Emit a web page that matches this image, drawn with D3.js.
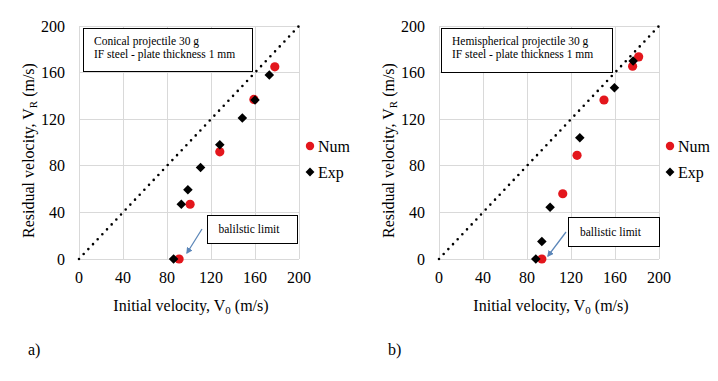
<!DOCTYPE html>
<html>
<head>
<meta charset="utf-8">
<script src="https://cdn.jsdelivr.net/npm/d3@7"></script>
<style>
  body { margin: 0; background: #fff; }
  svg { font-family: "Liberation Serif", "Times New Roman", serif; }
</style>
</head>
<body>
<div id="chart"></div>
<script>
// data
const ticks = [0, 40, 80, 120, 160, 200];

const conicalNum = [[91, 0], [101, 47], [128, 92], [159, 137], [178, 165]];
const conicalExp = [[86, 0], [93, 47], [99, 59.5], [110.5, 78.5], [128, 98], [148.5, 121], [160, 136.5], [173, 158]];

const hemiNum = [[93.5, 0], [112.5, 56], [125.5, 89], [150, 136.5], [176, 165.5], [181.5, 173.5]];
const hemiExp = [[88, 0], [93.5, 15], [101, 44.5], [128, 104], [159.5, 147], [176.5, 170]];

const panels = [
  {
    left: 79, tag: 'a)',
    note: ['Conical projectile 30 g', 'IF steel - plate thickness 1 mm'],
    limitText: 'balilstic limit',
    num: conicalNum, exp: conicalExp,
    box: [83, 28, 169, 43], limitBox: [207, 215, 90, 28],
    arrow: [[202, 229], [187, 253]]
  },
  {
    left: 439, tag: 'b)',
    note: ['Hemispherical projectile 30 g', 'IF steel - plate thickness 1 mm'],
    limitText: 'ballistic limit',
    num: hemiNum, exp: hemiExp,
    box: [441, 28, 171, 44], limitBox: [568, 217, 91, 29],
    arrow: [[566, 232], [548, 256]]
  }
];

const W = 718, H = 381;
const plotTop = 26, plotBottom = 259, plotW = 220;

const svg = d3.select('#chart').append('svg')
  .attr('width', W).attr('height', H);

svg.append('defs').append('marker')
  .attr('id', 'arrowhead')
  .attr('viewBox', '0 0 10 10')
  .attr('refX', 8).attr('refY', 5)
  .attr('markerWidth', 5).attr('markerHeight', 5)
  .attr('orient', 'auto')
  .append('path')
  .attr('d', 'M0,0 L10,5 L0,10 z')
  .attr('fill', '#5b86b8');

function drawPanel(p) {
  let x = d3.scaleLinear().domain([0, 200]).range([p.left, p.left + plotW]);
  let y = d3.scaleLinear().domain([0, 200]).range([plotBottom, plotTop]);
  let g = svg.append('g');

  // gridlines
  g.append('g').selectAll('line').data(ticks).join('line')
    .attr('x1', d => x(d)).attr('x2', d => x(d))
    .attr('y1', plotTop).attr('y2', plotBottom)
    .attr('stroke', '#d9d9d9').attr('stroke-width', 1).attr('shape-rendering', 'crispEdges');
  g.append('g').selectAll('line').data(ticks).join('line')
    .attr('x1', p.left).attr('x2', p.left + plotW)
    .attr('y1', d => y(d)).attr('y2', d => y(d))
    .attr('stroke', '#d9d9d9').attr('stroke-width', 1).attr('shape-rendering', 'crispEdges');

  // tick labels
  g.append('g').selectAll('text').data(ticks).join('text')
    .attr('x', d => x(d)).attr('y', plotBottom + 24)
    .attr('text-anchor', 'middle').attr('font-size', 16)
    .text(d => d);
  g.append('g').selectAll('text').data(ticks).join('text')
    .attr('x', p.left - 14).attr('y', d => y(d) + 5.5)
    .attr('text-anchor', 'end').attr('font-size', 16)
    .text(d => d);

  // axis titles
  let xt = g.append('text')
    .attr('x', x(100) + 2).attr('y', 311)
    .attr('text-anchor', 'middle').attr('font-size', 16);
  xt.append('tspan').text('Initial velocity, V');
  xt.append('tspan').attr('font-size', 11).attr('dy', 3).text('0');
  xt.append('tspan').attr('dy', -3).text(' (m/s)');

  let yt = g.append('text')
    .attr('transform', `translate(${p.left - 45},${(plotTop + plotBottom) / 2 + 8}) rotate(-90)`)
    .attr('text-anchor', 'middle').attr('font-size', 16);
  yt.append('tspan').text('Residual velocity, V');
  yt.append('tspan').attr('font-size', 11).attr('dy', 3).text('R');
  yt.append('tspan').attr('dy', -3).text(' (m/s)');

  // dotted diagonal
  g.append('line')
    .attr('x1', x(0)).attr('y1', y(0)).attr('x2', x(200)).attr('y2', y(200))
    .attr('stroke', '#000').attr('stroke-width', 2.6)
    .attr('stroke-linecap', 'round').attr('stroke-dasharray', '0 6.8');

  // series
  g.append('g').selectAll('circle').data(p.num).join('circle')
    .attr('cx', d => x(d[0])).attr('cy', d => y(d[1])).attr('r', 4.6)
    .attr('fill', '#e3161c');
  let diamond = d3.symbol().type(d3.symbolDiamond2).size(58);
  g.append('g').selectAll('path').data(p.exp).join('path')
    .attr('transform', d => `translate(${x(d[0])},${y(d[1])})`)
    .attr('d', diamond).attr('fill', '#000');

  // legend
  let lx = p.left + plotW + 11;
  g.append('circle').attr('cx', lx).attr('cy', 146).attr('r', 4.2).attr('fill', '#e3161c');
  g.append('text').attr('x', lx + 8).attr('y', 152).attr('font-size', 16).text('Num');
  g.append('path').attr('transform', `translate(${lx},172)`)
    .attr('d', d3.symbol().type(d3.symbolDiamond2).size(50)).attr('fill', '#000');
  g.append('text').attr('x', lx + 8).attr('y', 178).attr('font-size', 16).text('Exp');

  // note box
  let [bx, by, bw, bh] = p.box;
  g.append('rect').attr('x', bx + 0.5).attr('y', by + 0.5).attr('width', bw).attr('height', bh)
    .attr('fill', '#fff').attr('stroke', '#000').attr('stroke-width', 1);
  g.append('g').selectAll('text').data(p.note).join('text')
    .attr('x', bx + 11).attr('y', (d, i) => by + 17 + i * 12.5)
    .attr('font-size', 11.5).text(d => d);

  // ballistic limit box + arrow
  let [kx, ky, kw, kh] = p.limitBox;
  g.append('rect').attr('x', kx + 0.5).attr('y', ky + 0.5).attr('width', kw).attr('height', kh)
    .attr('fill', '#fff').attr('stroke', '#000').attr('stroke-width', 1);
  g.append('text').attr('x', kx + kw / 2 - 3).attr('y', ky + kh / 2 + 4)
    .attr('text-anchor', 'middle').attr('font-size', 11.5).text(p.limitText);
  g.append('line')
    .attr('x1', p.arrow[0][0]).attr('y1', p.arrow[0][1])
    .attr('x2', p.arrow[1][0]).attr('y2', p.arrow[1][1])
    .attr('stroke', '#5b86b8').attr('stroke-width', 1.3)
    .attr('marker-end', 'url(#arrowhead)');

  // panel tag
  g.append('text').attr('x', p.left - 51).attr('y', 355).attr('font-size', 16).text(p.tag);
}

panels.forEach(drawPanel);
</script>
</body>
</html>
